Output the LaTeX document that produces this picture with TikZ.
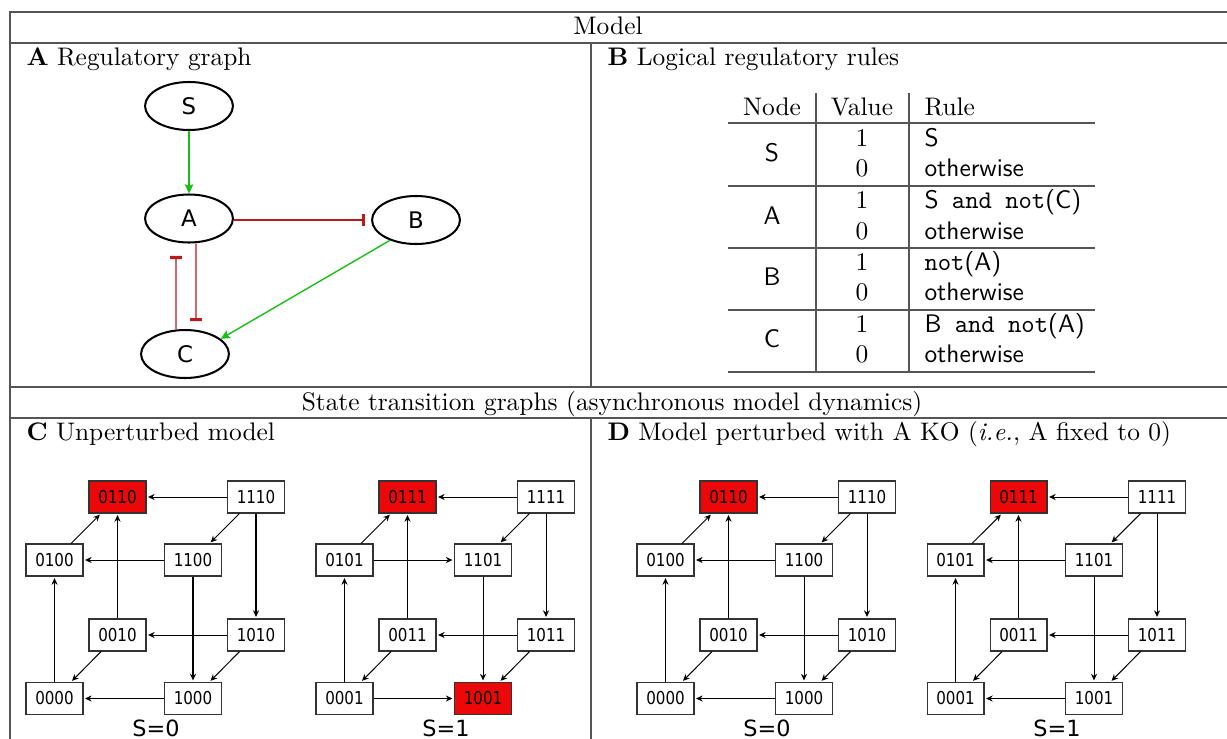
\documentclass[tikz,border=0pt]{standalone}
\usepackage{graphicx}
\usepackage{fontspec}
\newfontfamily\gvfont{DejaVu Sans}
\usetikzlibrary{arrows.meta,shapes.geometric}

\definecolor{actgreen}{RGB}{25,190,25}
\definecolor{inhred}{RGB}{190,25,25}
\definecolor{attrred}{RGB}{236,8,8}
\definecolor{rulegray}{RGB}{85,85,85}

\tikzset{
  frame/.style={draw=rulegray, line width=0.5pt},
  caption/.style={inner sep=0, font=\fontsize{10}{12}\selectfont},
  regnode/.style={ellipse, draw, line width=0.8pt, minimum width=34.6pt,
    minimum height=18.9pt, inner sep=0, font=\gvfont\fontsize{9}{10}\selectfont},
  activ/.style={draw=actgreen, line width=0.55pt,
    -{Stealth[length=3.6pt,width=3.4pt,inset=0.6pt]}},
  inhib/.style={draw=inhred, line width=0.55pt, -{Bar[width=4.6pt,line width=1.2pt]}},
  tabrule/.style={draw=rulegray, line width=0.6pt},
  tabvrule/.style={draw=rulegray, line width=0.45pt},
  tabcell/.style={inner sep=0, font=\fontsize{10}{12}\selectfont},
  state/.style={rectangle, draw=black!80, fill=white, line width=0.45pt,
    minimum width=22.4pt, minimum height=12.6pt, inner sep=0,
    font=\gvfont\fontsize{7}{8}\selectfont},
  trans/.style={line width=0.4pt, shorten >=0.6pt,
    -{Stealth[length=2.6pt,width=2.4pt]}},
  slabel/.style={inner sep=0, anchor=base, font=\gvfont\fontsize{8.8}{10}\selectfont},
}

% narrow digits for the state boxes
\newcommand\bits[1]{\scalebox{0.85}[1]{#1}}

% One state transition graph: #1 name prefix, #2 horizontal offset,
% #3 value of S, #4 fill of state 011S, #5 fill of state 100S.
% The ten transitions shared by all four graphs are drawn here.
\newcommand\stgraph[5]{%
  \begin{scope}[shift={(#2,0)}]
    \node[state, fill=#4] (#1-011) at (117.5,497)   {\bits{011#3}};
    \node[state]          (#1-111) at (256,497)     {\bits{111#3}};
    \node[state]          (#1-010) at (54.5,560)    {\bits{010#3}};
    \node[state]          (#1-110) at (193,560)     {\bits{110#3}};
    \node[state]          (#1-001) at (117.5,635)   {\bits{001#3}};
    \node[state]          (#1-101) at (256,635)     {\bits{101#3}};
    \node[state]          (#1-000) at (54.5,698.5)  {\bits{000#3}};
    \node[state, fill=#5] (#1-100) at (193,698.5)   {\bits{100#3}};
    \node[slabel]         (#1-lab) at (156,736)     {S=#3};
    \draw[trans] (#1-111) -- (#1-011);
    \draw[trans] (#1-111) -- (#1-110);
    \draw[trans] (#1-111) -- (#1-101);
    \draw[trans] (#1-010) -- (#1-011);
    \draw[trans] (#1-001) -- (#1-011);
    \draw[trans] (#1-110) -- (#1-100);
    \draw[trans] (#1-101) -- (#1-001);
    \draw[trans] (#1-000) -- (#1-010);
    \draw[trans] (#1-001) -- (#1-000);
    \draw[trans] (#1-101) -- (#1-100);
  \end{scope}%
}

\begin{document}
\begin{tikzpicture}[x=0.3937pt, y=-0.3937pt]
  \useasboundingbox (0,0) rectangle (1227,738);
  \clip (0,0) rectangle (1227,738);

  % outer frame and cell borders
  \draw[frame] (10,12) rectangle (1245,760);
  \draw[frame] (10,43) -- (1245,43);
  \draw[frame] (10,387) -- (1245,387);
  \draw[frame] (10,418) -- (1245,418);
  \draw[frame] (591,43) -- (591,387);
  \draw[frame] (591,418) -- (591,760);

  % headings
  \node[caption, anchor=base] (hmodel) at (608,35) {Model};
  \node[caption, anchor=base west] (capA) at (26,65) {\textbf{A} Regulatory graph};
  \node[caption, anchor=base west] (capB) at (607,65) {\textbf{B} Logical regulatory rules};
  \node[caption, anchor=base] (hstg) at (612,410)
    {State transition graphs (asynchronous model dynamics)};
  \node[caption, anchor=base west] (capC) at (26,440) {\textbf{C} Unperturbed model};
  \node[caption, anchor=base west] (capD) at (607,440)
    {\textbf{D} Model perturbed with A KO (\textit{i.e.}, A fixed to 0)};

  % regulatory graph
  \node[regnode] (S) at (189,106) {S};
  \node[regnode] (A) at (189,218.5) {A};
  \node[regnode] (B) at (416,220) {B};
  \node[regnode] (C) at (185,354) {C};
  \draw[activ] (S) -- (A);
  \draw[inhib, shorten >=2.4pt] (A.east |- B.west) -- (B.west);
  \draw[inhib, shorten >=3.1pt] ([xshift=2.76pt]A.south) -- ([xshift=4.33pt]C.north);
  \draw[inhib, shorten >=4.9pt] ([xshift=-3.54pt]C.north) -- ([xshift=-5.12pt]A.south);
  \draw[activ] (B.218) -- (C.23);

  % table of logical rules
  \draw[tabrule] (728,123) -- (1095,123);
  \draw[tabrule] (728,186) -- (1095,186);
  \draw[tabrule] (728,248) -- (1095,248);
  \draw[tabrule] (728,310) -- (1095,310);
  \draw[tabrule] (728,372) -- (1095,372);
  \draw[tabvrule] (816,93) -- (816,372);
  \draw[tabvrule] (909,93) -- (909,372);

  \node[tabcell, anchor=base] (tN) at (772,115) {Node};
  \node[tabcell, anchor=base] (tV) at (862,115) {Value};
  \node[tabcell, anchor=base west] (tR) at (924,115) {Rule};

  \node[tabcell] (nS) at (772,153) {\textsf{S}};
  \node[tabcell] (nA) at (772,215.5) {\textsf{A}};
  \node[tabcell] (nB) at (772,277) {\textsf{B}};
  \node[tabcell] (nC) at (772,339) {\textsf{C}};

  \node[tabcell, anchor=base] (vS1) at (862,146) {1};
  \node[tabcell, anchor=base] (vS0) at (862,176) {0};
  \node[tabcell, anchor=base] (vA1) at (862,208) {1};
  \node[tabcell, anchor=base] (vA0) at (862,239) {0};
  \node[tabcell, anchor=base] (vB1) at (862,270) {1};
  \node[tabcell, anchor=base] (vB0) at (862,300) {0};
  \node[tabcell, anchor=base] (vC1) at (862,332) {1};
  \node[tabcell, anchor=base] (vC0) at (862,362) {0};

  \node[tabcell, anchor=base west] (rS1) at (924,146) {\textsf{S}};
  \node[tabcell, anchor=base west] (rS0) at (924,176) {\textsf{otherwise}};
  \node[tabcell, anchor=base west] (rA1) at (924,208)
    {\textsf{S}\texttt{ and not}\textsf{(C)}};
  \node[tabcell, anchor=base west] (rA0) at (924,239) {\textsf{otherwise}};
  \node[tabcell, anchor=base west] (rB1) at (924,270) {\texttt{not}\textsf{(A)}};
  \node[tabcell, anchor=base west] (rB0) at (924,300) {\textsf{otherwise}};
  \node[tabcell, anchor=base west] (rC1) at (924,332)
    {\textsf{B}\texttt{ and not}\textsf{(A)}};
  \node[tabcell, anchor=base west] (rC0) at (924,362) {\textsf{otherwise}};

  % state transition graphs
  \stgraph{c0}{0}{0}{attrred}{white}
  \draw[trans] (c0-110) -- (c0-010);
  \draw[trans] (c0-100) -- (c0-000);

  \stgraph{c1}{290}{1}{attrred}{attrred}
  \draw[trans] (c1-010) -- (c1-110);
  \draw[trans] (c1-000) -- (c1-100);

  \stgraph{d0}{611}{0}{attrred}{white}
  \draw[trans] (d0-110) -- (d0-010);
  \draw[trans] (d0-100) -- (d0-000);

  \stgraph{d1}{901}{1}{attrred}{white}
  \draw[trans] (d1-110) -- (d1-010);
  \draw[trans] (d1-100) -- (d1-000);
\end{tikzpicture}
\end{document}
